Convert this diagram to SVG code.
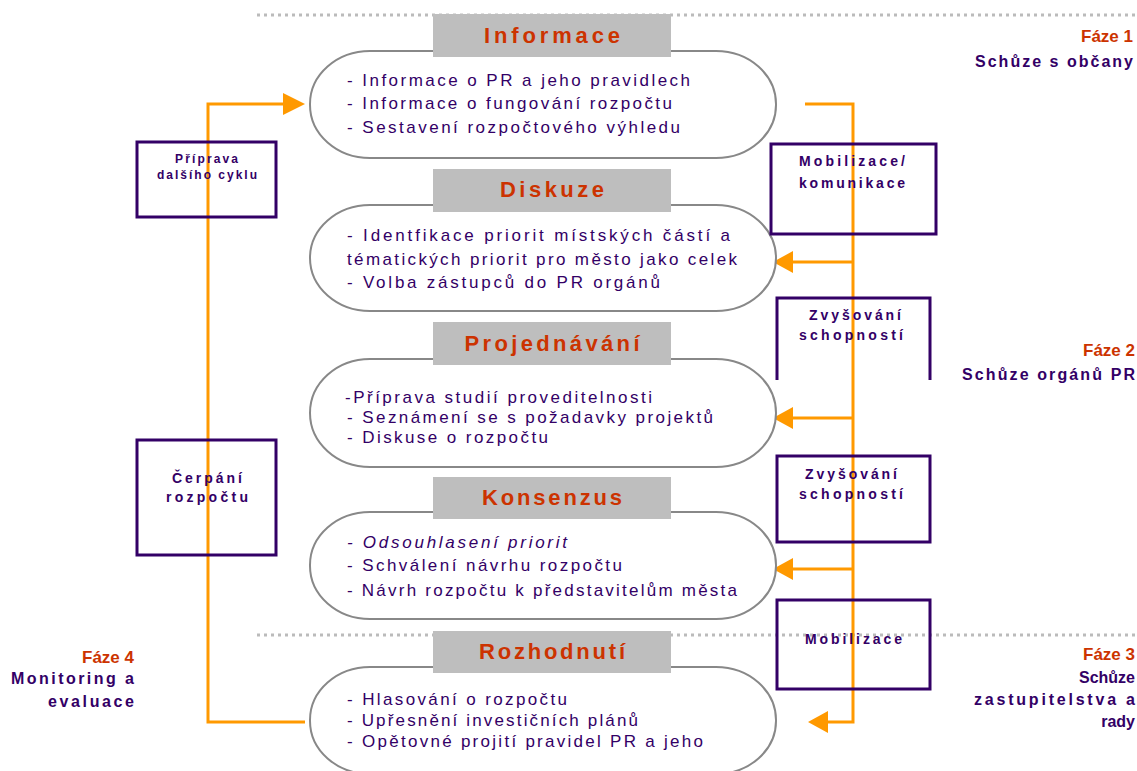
<svg xmlns="http://www.w3.org/2000/svg" width="1137" height="771" viewBox="0 0 1137 771">
<style>
.bg{fill:#fff}
.dot{stroke:#BBBBBB;stroke-width:3;stroke-dasharray:3 4;fill:none}
.ell{fill:#fff;stroke:#888;stroke-width:2}
.bar{fill:#BEBEBE}
.hd{font-family:"Liberation Sans",Arial,sans-serif;font-weight:bold;font-size:22px;fill:#CC3300;text-anchor:middle}
.tx{font-family:"Liberation Sans",Arial,sans-serif;font-size:17px;fill:#330066}
.box{fill:none;stroke:#330066;stroke-width:3}
.bt{font-family:"Liberation Sans",Arial,sans-serif;font-weight:bold;font-size:14px;fill:#330066}
.sm{font-family:"Liberation Sans",Arial,sans-serif;font-weight:bold;font-size:12px;fill:#330066}
.ph{font-family:"Liberation Sans",Arial,sans-serif;font-weight:bold;font-size:17px;fill:#CC3300;text-anchor:end}
.pl{font-family:"Liberation Sans",Arial,sans-serif;font-weight:bold;font-size:16px;fill:#330066;text-anchor:end}
.or{stroke:#FF9900;stroke-width:3;fill:none}
.ah{fill:#FF9900}
</style>
<rect class="bg" x="0" y="0" width="1137" height="771"/>
<g id="separators">
<line class="dot" x1="257" y1="15" x2="1137" y2="15"/>
<line class="dot" x1="257" y1="635" x2="1137" y2="635"/>
</g>
<g id="connectors">
<polyline class="or" points="805,104 853,104 853,722 828,722"/>
<polygon class="ah" points="808,722 828,711 828,733"/>
<line class="or" x1="853" y1="262" x2="793" y2="262"/>
<polygon class="ah" points="773,262 793,251 793,273"/>
<line class="or" x1="853" y1="418" x2="793" y2="418"/>
<polygon class="ah" points="773,418 793,407 793,429"/>
<line class="or" x1="853" y1="569" x2="793" y2="569"/>
<polygon class="ah" points="773,569 793,558 793,580"/>
<polyline class="or" points="305,722 208,722 208,104 285,104"/>
<polygon class="ah" points="305,104 283,93 283,115"/>
</g>
<g id="stage-informace">
<rect class="ell" x="310" y="51" width="466" height="107" rx="60" ry="53"/>
<rect class="bar" x="433" y="14" width="238" height="43"/>
<text class="hd" x="552" y="43" textLength="136" lengthAdjust="spacing">Informace</text>
<text class="tx" x="347" y="86" textLength="343" lengthAdjust="spacing">- Informace o PR a jeho pravidlech</text>
<text class="tx" x="347" y="109" textLength="325" lengthAdjust="spacing">- Informace o fungování rozpočtu</text>
<text class="tx" x="347" y="133" textLength="333" lengthAdjust="spacing">- Sestavení rozpočtového výhledu</text>
</g>
<g id="stage-diskuze">
<rect class="ell" x="310" y="205" width="466" height="106" rx="60" ry="53"/>
<rect class="bar" x="433" y="169" width="238" height="43"/>
<text class="hd" x="552" y="197" textLength="104" lengthAdjust="spacing">Diskuze</text>
<text class="tx" x="347" y="241" textLength="383" lengthAdjust="spacing">- Identfikace priorit místských částí a</text>
<text class="tx" x="347" y="265" textLength="390" lengthAdjust="spacing">tématických priorit pro město jako celek</text>
<text class="tx" x="347" y="288" textLength="313" lengthAdjust="spacing">- Volba zástupců do PR orgánů</text>
</g>
<g id="stage-projednavani">
<rect class="ell" x="310" y="359" width="466" height="108" rx="60" ry="54"/>
<rect class="bar" x="433" y="322" width="238" height="43"/>
<text class="hd" x="552" y="351" textLength="175" lengthAdjust="spacing">Projednávání</text>
<text class="tx" x="345" y="403" textLength="307" lengthAdjust="spacing">-Příprava studií proveditelnosti</text>
<text class="tx" x="347" y="423" textLength="366" lengthAdjust="spacing">- Seznámení se s požadavky projektů</text>
<text class="tx" x="347" y="443" textLength="201" lengthAdjust="spacing">- Diskuse o rozpočtu</text>
</g>
<g id="stage-konsenzus">
<rect class="ell" x="310" y="512" width="466" height="107" rx="60" ry="53"/>
<rect class="bar" x="433" y="477" width="238" height="42"/>
<text class="hd" x="552" y="505" textLength="140" lengthAdjust="spacing">Konsenzus</text>
<text class="tx" x="347" y="548" textLength="220" lengthAdjust="spacing" font-style="italic">- Odsouhlasení priorit</text>
<text class="tx" x="347" y="571" textLength="275" lengthAdjust="spacing">- Schválení návrhu rozpočtu</text>
<text class="tx" x="347" y="596" textLength="390" lengthAdjust="spacing">- Návrh rozpočtu k představitelům města</text>
</g>
<g id="stage-rozhodnuti">
<rect class="ell" x="310" y="667" width="466" height="107" rx="60" ry="53"/>
<rect class="bar" x="433" y="631" width="238" height="42"/>
<text class="hd" x="552" y="659" textLength="146" lengthAdjust="spacing">Rozhodnutí</text>
<text class="tx" x="347" y="705" textLength="220" lengthAdjust="spacing">- Hlasování o rozpočtu</text>
<text class="tx" x="347" y="726" textLength="291" lengthAdjust="spacing">- Upřesnění investičních plánů</text>
<text class="tx" x="347" y="747" textLength="356" lengthAdjust="spacing">- Opětovné projití pravidel PR a jeho</text>
</g>
<g id="box-mobilizace-komunikace">
<rect class="box" x="771" y="144" width="165" height="90"/>
<text class="bt" x="799" y="166" textLength="106" lengthAdjust="spacing">Mobilizace/</text>
<text class="bt" x="799" y="188" textLength="106" lengthAdjust="spacing">komunikace</text>
</g>
<g id="box-zvysovani-1">
<polyline class="box" points="777,380 777,298 930,298 930,380"/>
<text class="bt" x="809" y="320" textLength="92" lengthAdjust="spacing">Zvyšování</text>
<text class="bt" x="799" y="340" textLength="104" lengthAdjust="spacing">schopností</text>
</g>
<g id="box-zvysovani-2">
<rect class="box" x="777" y="456" width="153" height="86"/>
<text class="bt" x="805" y="479" textLength="92" lengthAdjust="spacing">Zvyšování</text>
<text class="bt" x="799" y="499" textLength="104" lengthAdjust="spacing">schopností</text>
</g>
<g id="box-mobilizace">
<rect class="box" x="777" y="600" width="153" height="89"/>
<text class="bt" x="805" y="644" textLength="97" lengthAdjust="spacing">Mobilizace</text>
</g>
<g id="box-priprava">
<rect class="box" x="137" y="142" width="139" height="75"/>
<text class="sm" x="175" y="163" textLength="63" lengthAdjust="spacing">Příprava</text>
<text class="sm" x="157" y="179" textLength="100" lengthAdjust="spacing">dalšího cyklu</text>
</g>
<g id="box-cerpani">
<rect class="box" x="137" y="440" width="139" height="115"/>
<text class="bt" x="172" y="483" textLength="70" lengthAdjust="spacing">Čerpání</text>
<text class="bt" x="166" y="502" textLength="82" lengthAdjust="spacing">rozpočtu</text>
</g>
<g id="phase-1">
<text class="ph" x="1133" y="42">Fáze 1</text>
<text class="pl" x="1133" y="67" textLength="158" lengthAdjust="spacing">Schůze s občany</text>
</g>
<g id="phase-2">
<text class="ph" x="1135" y="356">Fáze 2</text>
<text class="pl" x="1135" y="380" textLength="173" lengthAdjust="spacing">Schůze orgánů PR</text>
</g>
<g id="phase-3">
<text class="ph" x="1135" y="660">Fáze 3</text>
<text class="pl" x="1135" y="683">Schůze</text>
<text class="pl" x="1135" y="705" textLength="161" lengthAdjust="spacing">zastupitelstva a</text>
<text class="pl" x="1135" y="727">rady</text>
</g>
<g id="phase-4">
<text class="ph" x="134" y="663">Fáze 4</text>
<text class="pl" x="134" y="684" textLength="123" lengthAdjust="spacing">Monitoring a</text>
<text class="pl" x="134" y="707" textLength="86" lengthAdjust="spacing">evaluace</text>
</g>
</svg>
